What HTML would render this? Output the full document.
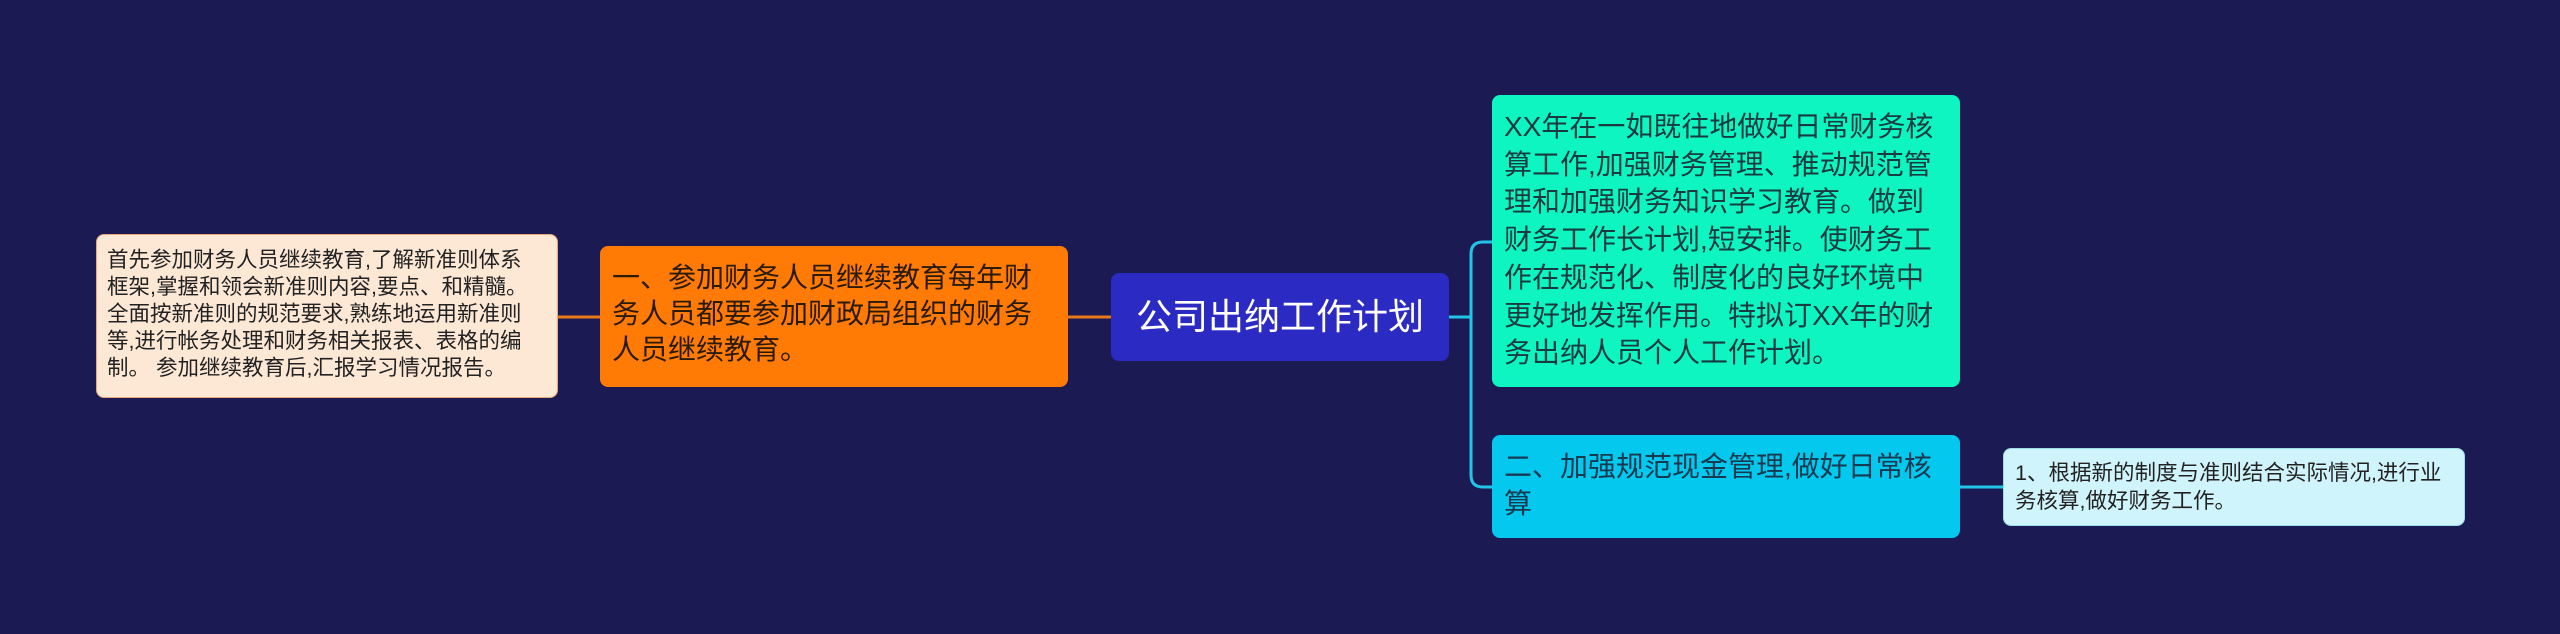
<!DOCTYPE html>
<html><head><meta charset="utf-8"><style>
html,body{margin:0;padding:0}
body{width:2560px;height:634px;background:#1b1a52;position:relative;overflow:hidden;font-family:"Liberation Sans","Noto Sans CJK SC",sans-serif}
.b{position:absolute;box-sizing:border-box;border-radius:8px;white-space:nowrap}
svg{position:absolute;left:0;top:0}
</style></head><body>
<svg width="2560" height="634">
<path d="M558 317 H600" stroke="#e8791a" stroke-width="3" fill="none"/>
<path d="M1068 317 H1111" stroke="#e8791a" stroke-width="3" fill="none"/>
<path d="M1449 317 H1471" stroke="#20c5e8" stroke-width="3" fill="none"/>
<path d="M1492 242 H1483 Q1471 242 1471 254 V475 Q1471 487 1483 487 H1492" stroke="#20c5e8" stroke-width="3" fill="none"/>
<path d="M1960 487 H2003" stroke="#20c5e8" stroke-width="3" fill="none"/>
</svg>
<div class="b" style="left:96px;top:234px;width:462px;height:164px;background:#fde8d6;border:1px solid #e8a878;padding:12px 10px;font-size:21.5px;line-height:27px;color:#222">首先参加财务人员继续教育,了解新准则体系<br>框架,掌握和领会新准则内容,要点、和精髓。<br>全面按新准则的规范要求,熟练地运用新准则<br>等,进行帐务处理和财务相关报表、表格的编<br>制。 参加继续教育后,汇报学习情况报告。</div>
<div class="b" style="left:600px;top:246px;width:468px;height:141px;background:#ff7b06;padding:14px 12px;font-size:28px;line-height:36px;color:#2a1a0a">一、参加财务人员继续教育每年财<br>务人员都要参加财政局组织的财务<br>人员继续教育。</div>
<div class="b" style="left:1111px;top:273px;width:338px;height:88px;background:#2b2bc4;font-size:36px;line-height:88px;color:#fff;text-align:center">公司出纳工作计划</div>
<div class="b" style="left:1492px;top:95px;width:468px;height:292px;background:#0ef5c2;padding:13px 12px;font-size:28px;line-height:37.7px;color:#183a40">XX年在一如既往地做好日常财务核<br>算工作,加强财务管理、推动规范管<br>理和加强财务知识学习教育。做到<br>财务工作长计划,短安排。使财务工<br>作在规范化、制度化的良好环境中<br>更好地发挥作用。特拟订XX年的财<br>务出纳人员个人工作计划。</div>
<div class="b" style="left:1492px;top:435px;width:468px;height:103px;background:#04c8ee;padding:13px 12px;font-size:28px;line-height:37px;color:#183a50">二、加强规范现金管理,做好日常核<br>算</div>
<div class="b" style="left:2003px;top:448px;width:462px;height:78px;background:#d0f4fb;border:1px solid #9adcea;padding:10px 11px;font-size:21.5px;line-height:28px;color:#222">1、根据新的制度与准则结合实际情况,进行业<br>务核算,做好财务工作。</div>
</body></html>
